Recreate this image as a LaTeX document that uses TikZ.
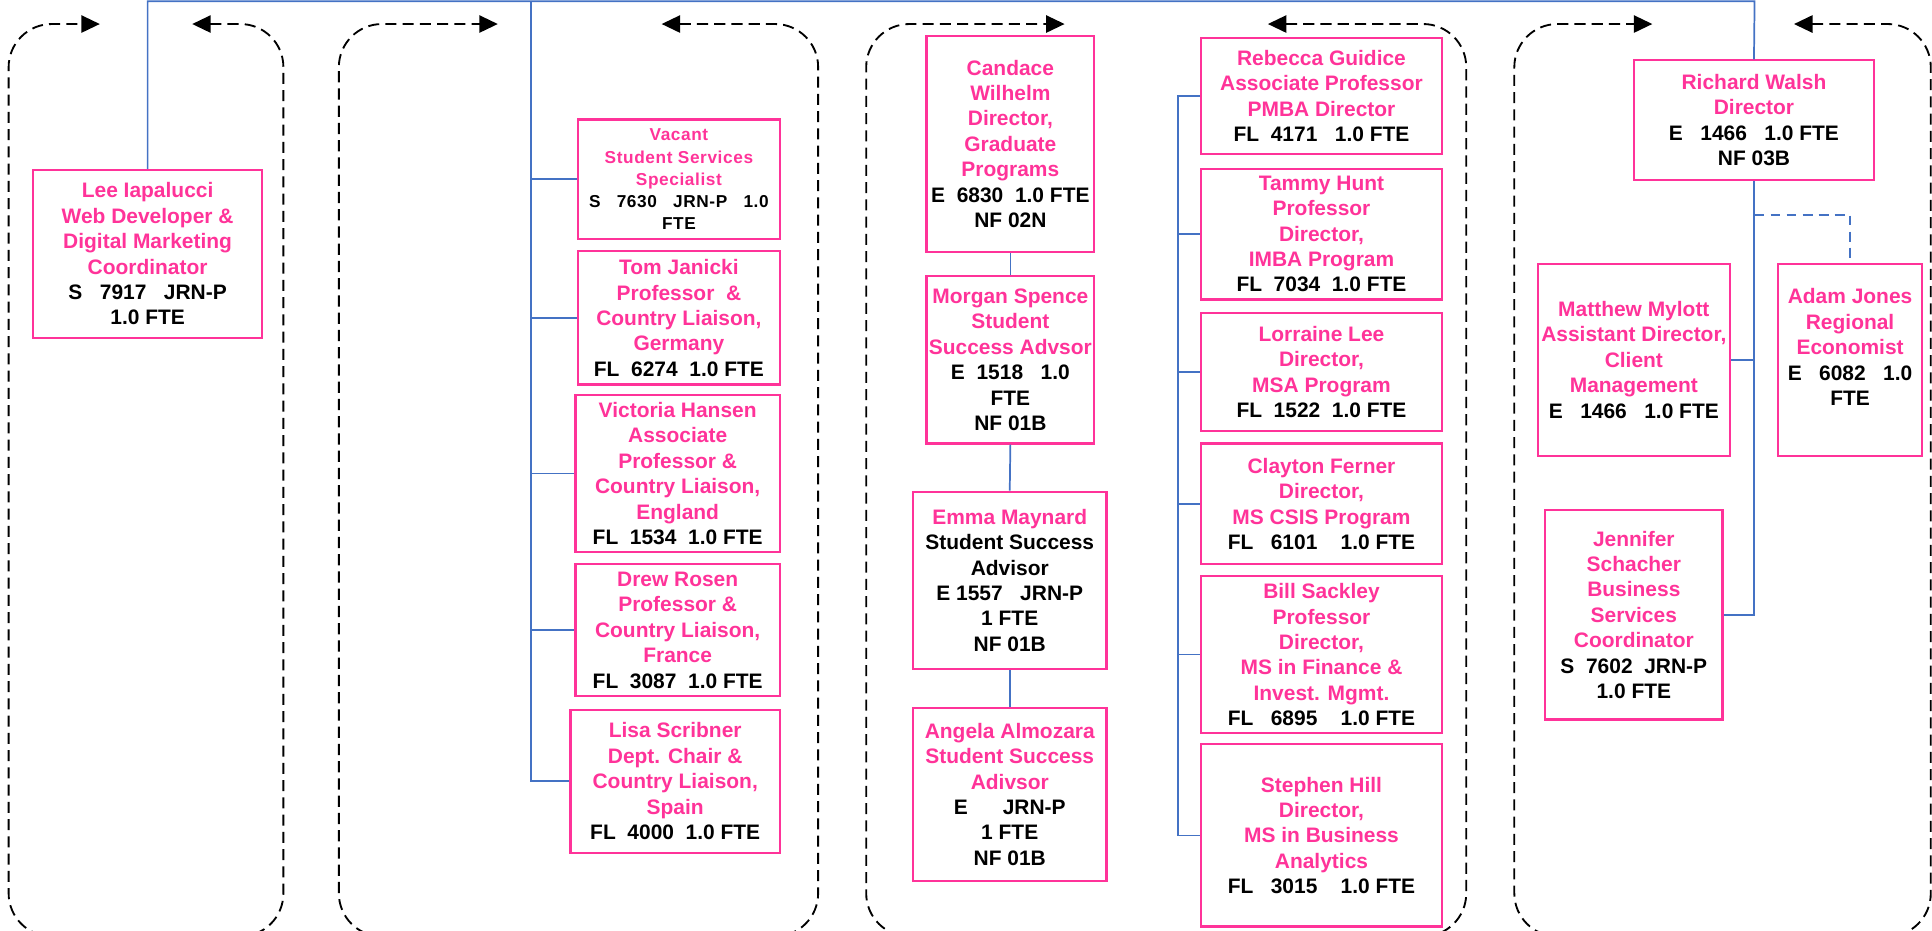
\documentclass[tikz,border=0pt]{standalone}
\usepackage{fontspec}
\setmainfont{Liberation Sans}
\usetikzlibrary{arrows.meta}
\definecolor{pk}{HTML}{FF3399}
\definecolor{bl}{HTML}{4472C4}
\newcommand{\bk}[1]{\textcolor{black}{#1}}
\newcommand{\pbox}[7][]{\node[pbox,#1,minimum width={(#5-#3)*1pt},minimum height={(#6-#4)*1pt}] (#2) at ({(#3+#5)/2},{(#4+#6)/2}) {#7};}
\tikzset{
  pbox/.style={draw=pk, line width=1.8pt, text=pk, align=center, inner sep=0pt,
    font=\fontsize{17}{20.6}\selectfont\bfseries},
  conn/.style={draw=bl, line width=1.4pt},
  dconn/.style={conn, dash pattern=on 8pt off 5pt},
  cont/.style={draw=black, line width=1.5pt, dash pattern=on 9pt off 5pt,
    rounded corners=35pt,
    {Triangle[length=15pt,width=14pt]}-{Triangle[length=15pt,width=14pt]}},
}
\begin{document}
\begin{tikzpicture}[x=1pt,y=-1pt]
\useasboundingbox (0,0) rectangle (1568,755);

% dashed containers
\draw[cont] (156,19.5) -- (230,19.5) -- (230,760) -- (7,760) -- (7,19.5) -- (81,19.5);
\draw[cont] (537,19.5) -- (664,19.5) -- (664,760) -- (275,760) -- (275,19.5) -- (404,19.5);
\draw[cont] (1029,19.5) -- (1190,19.5) -- (1190,760) -- (703,760) -- (703,19.5) -- (864,19.5);
\draw[cont] (1456,19.5) -- (1567,19.5) -- (1567,760) -- (1229,760) -- (1229,19.5) -- (1341,19.5);

% column 1
\pbox{lee}{27}{138}{212.6}{274}{Lee Iapalucci\\Web Developer \&\\Digital Marketing\\Coordinator\\\bk{S~~~7917~~~JRN-P}\\\bk{1.0 FTE}}

% column 2
\pbox[font=\fontsize{14}{18}\selectfont\bfseries\addfontfeature{LetterSpace=3.5}]{vac}{469}{97}{633}{194}{Vacant\\Student Services\\Specialist\\\bk{S~~~7630~~~JRN-P~~~1.0}\\\bk{FTE}}
\pbox{tom}{469}{204}{633}{312}{Tom Janicki\\Professor~~\&\\Country Liaison,\\Germany\\\bk{FL~~6274~~1.0 FTE}}
\pbox{vic}{467}{320.6}{633}{448}{Victoria Hansen\\Associate\\Professor \&\\Country Liaison,\\England\\\bk{FL~~1534~~1.0 FTE}}
\pbox{drew}{467}{458}{633}{565}{Drew Rosen\\Professor \&\\Country Liaison,\\France\\\bk{FL~~3087~~1.0 FTE}}
\pbox{lisa}{463}{576}{633}{692}{Lisa Scribner\\Dept. Chair \&\\Country Liaison,\\Spain\\\bk{FL~~4000~~1.0 FTE}}

% column 3a
\pbox{cand}{752}{29}{888}{204.5}{Candace\\Wilhelm\\Director,\\Graduate\\Programs\\\bk{E~~6830~~1.0 FTE}\\\bk{NF 02N}}
\pbox{morg}{752}{224}{888}{360}{Morgan Spence\\Student\\Success Advsor\\\bk{E~~1518~~~1.0}\\\bk{FTE}\\\bk{NF 01B}}
\pbox{emma}{741}{399}{898}{543}{Emma Maynard\\\bk{Student Success}\\\bk{Advisor}\\\bk{E 1557~~~JRN-P}\\\bk{1 FTE}\\\bk{NF 01B}}
\pbox{ang}{741}{574.5}{898}{715}{Angela Almozara\\Student Success\\Adivsor\\\bk{E~~~~~~JRN-P}\\\bk{1 FTE}\\\bk{NF 01B}}

% column 3b
\pbox{reb}{975}{31}{1170}{125}{Rebecca Guidice\\Associate Professor\\PMBA Director\\\bk{FL~~4171~~~1.0 FTE}}
\pbox{tam}{975}{137}{1170}{243}{Tammy Hunt\\Professor\\Director,\\IMBA Program\\\bk{FL~~7034~~1.0 FTE}}
\pbox{lor}{975}{254}{1170}{350}{Lorraine Lee\\Director,\\MSA Program\\\bk{FL~~1522~~1.0 FTE}}
\pbox{clay}{975}{360}{1170}{458}{Clayton Ferner\\Director,\\MS CSIS Program\\\bk{FL~~~6101~~~~1.0 FTE}}
\pbox{bill}{975}{467.5}{1170}{595}{Bill Sackley\\Professor\\Director,\\MS in Finance \&\\Invest. Mgmt.\\\bk{FL~~~6895~~~~1.0 FTE}}
\pbox{steph}{975}{604}{1170}{752}{Stephen Hill\\Director,\\MS in Business\\Analytics\\\bk{FL~~~3015~~~~1.0 FTE}}

% column 4
\pbox{rich}{1326}{49}{1521}{146}{Richard Walsh\\Director\\\bk{E~~~1466~~~1.0 FTE}\\\bk{NF 03B}}
\pbox{mat}{1248}{214}{1404}{370}{Matthew Mylott\\Assistant Director,\\Client\\Management\\\bk{E~~~1466~~~1.0 FTE}}
\pbox{adam}{1443}{214}{1560}{370}{Adam Jones\\Regional\\Economist\\\bk{E~~~6082~~~1.0}\\\bk{FTE}\\\mbox{}}
\pbox{jen}{1254}{414}{1398}{584}{Jennifer\\Schacher\\Business\\Services\\Coordinator\\\bk{S~~7602~~JRN-P}\\\bk{1.0 FTE}}

% connectors
\coordinate (rtop) at (1424,1);
\coordinate (c2) at (431,1);
\coordinate (c3) at (956,78);
\coordinate (dj) at (1424,174.5);
\draw[conn] (lee.north) |- (rtop) -- (rich.north);
\draw[conn] (c2) |- (lisa.west);
\draw[conn] (vac.west -| c2) -- (vac.west);
\draw[conn] (tom.west -| c2) -- (tom.west);
\draw[conn] (vic.west -| c2) -- (vic.west);
\draw[conn] (drew.west -| c2) -- (drew.west);
\draw[conn] (cand.south) -- (morg.north);
\draw[conn] (morg.south) -- (emma.north);
\draw[conn] (emma.south) -- (ang.north);
\draw[conn] (reb.west) -| (c3 |- steph.west) -- (steph.west);
\draw[conn] (tam.west -| c3) -- (tam.west);
\draw[conn] (lor.west -| c3) -- (lor.west);
\draw[conn] (clay.west -| c3) -- (clay.west);
\draw[conn] (bill.west -| c3) -- (bill.west);
\draw[conn] (rich.south) |- (jen.east);
\draw[conn] (mat.east) -- (mat.east -| rich.south);
\draw[dconn] (dj) -| (adam.north);
\end{tikzpicture}
\end{document}
